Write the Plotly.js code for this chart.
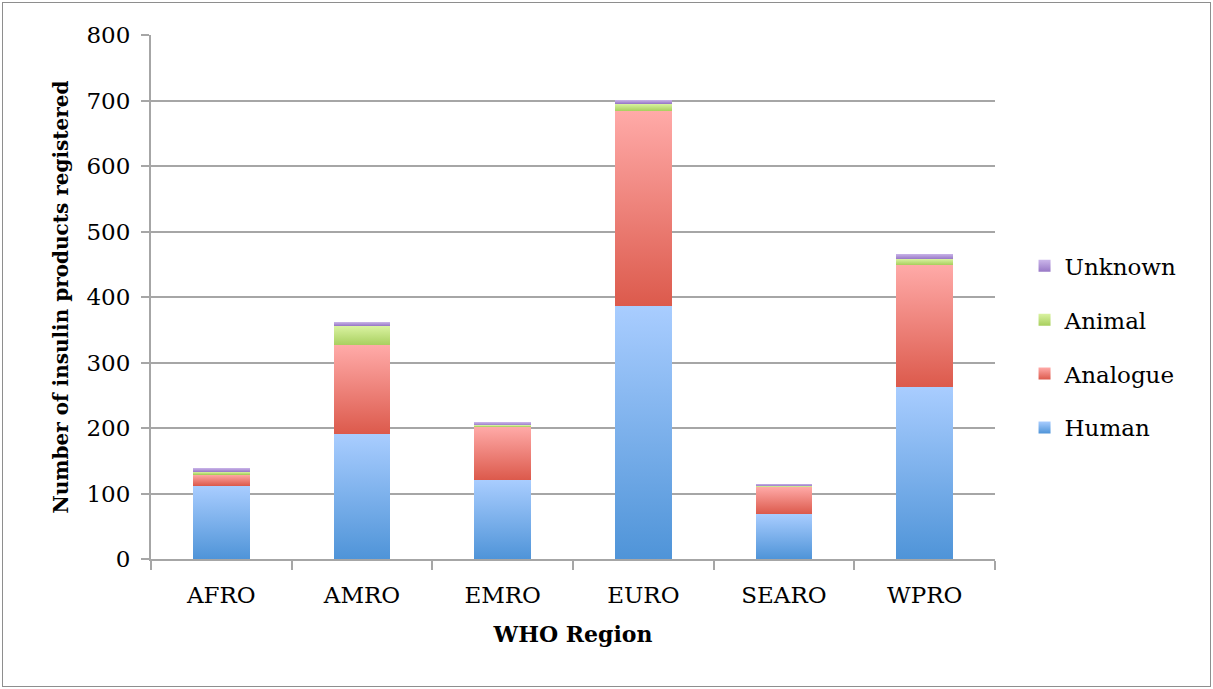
<!DOCTYPE html>
<html>
<head>
<meta charset="utf-8">
<script src="https://cdn.plot.ly/plotly-3.0.1.min.js"></script>
<style>
  html, body { margin: 0; padding: 0; background: #fff; }
  #frame { position: absolute; left: 2px; top: 2px; width: 1207px; height: 683px; border: 1.5px solid #8e8e8e; }
  #chart { position: absolute; left: 0; top: 0; width: 1213px; height: 689px; }
</style>
</head>
<body>
<div id="chart"></div>
<div id="frame"></div>
<script>
const regions = ["AFRO", "AMRO", "EMRO", "EURO", "SEARO", "WPRO"];
const human    = [112, 191, 121, 386, 69, 263];
const analogue = [17, 135, 81, 298, 41, 186];
const animal   = [4, 30, 2, 11, 1, 9];
const unknown  = [6, 6, 5, 6, 4, 8];

const seriesNames = ["Human", "Analogue", "Animal", "Unknown"];
const seriesValues = [human, analogue, animal, unknown];
const legendRanks = [4, 3, 2, 1];
const midColors = ["#7aaee8", "#ee8478", "#c2e27e", "#b398d8"];
const gradStops = [
  ["#a9cdff", "#4f94d8"],
  ["#ffaaa8", "#dc5a4c"],
  ["#daf3a2", "#a8cf5e"],
  ["#cbb6ea", "#9878c6"]
];

const font = "DejaVu Serif, Liberation Serif, serif";

const traces = seriesNames.map((name, i) => ({
  type: "bar",
  name: name,
  x: regions,
  y: seriesValues[i],
  legendgroup: name,
  legendrank: legendRanks[i],
  marker: { color: midColors[i], line: { width: 0 } },
  hoverinfo: "x+y+name"
}));

const layout = {
  width: 1213,
  height: 689,
  margin: { l: 151, r: 218, t: 35, b: 130 },
  paper_bgcolor: "#ffffff",
  plot_bgcolor: "#ffffff",
  barmode: "stack",
  bargap: 0.595,
  font: { family: font, color: "#000", size: 23 },
  xaxis: {
    type: "category",
    showgrid: false,
    showline: true,
    linecolor: "#a6a6a6",
    linewidth: 2,
    ticks: "outside",
    tickson: "boundaries",
    ticklen: 9,
    tickwidth: 2,
    tickcolor: "#a6a6a6",
    ticklabelstandoff: 14,
    tickfont: { family: font, size: 23, color: "#000" },
    title: { text: "<b>WHO Region</b>", font: { family: font, size: 22, color: "#000" }, standoff: 20 }
  },
  yaxis: {
    range: [0, 800],
    dtick: 100,
    showgrid: true,
    gridcolor: "#a6a6a6",
    gridwidth: 2,
    showline: true,
    linecolor: "#a6a6a6",
    linewidth: 2,
    zeroline: false,
    ticks: "outside",
    ticklen: 8,
    tickwidth: 2,
    tickcolor: "#a6a6a6",
    ticklabelstandoff: 6,
    tickfont: { family: font, size: 23, color: "#000" },
    title: { text: "<b>Number of insulin products registered</b>", font: { family: font, size: 20, color: "#000" }, standoff: 12 }
  },
  legend: {
    x: 1.035,
    xanchor: "left",
    y: 0.405,
    yanchor: "middle",
    font: { family: font, size: 23, color: "#000" },
    tracegroupgap: 21,
    traceorder: "grouped",
    bgcolor: "rgba(0,0,0,0)"
  },
  showlegend: true
};

function applyGradients(gd) {
  const svg = gd.querySelector(".main-svg");
  if (!svg) return;
  const ns = "http://www.w3.org/2000/svg";
  let defs = svg.querySelector("defs#customgrad");
  if (!defs) {
    defs = document.createElementNS(ns, "defs");
    defs.setAttribute("id", "customgrad");
    gradStops.forEach((st, i) => {
      const lg = document.createElementNS(ns, "linearGradient");
      lg.setAttribute("id", "grad" + i);
      lg.setAttribute("x1", "0"); lg.setAttribute("y1", "0");
      lg.setAttribute("x2", "0"); lg.setAttribute("y2", "1");
      const s1 = document.createElementNS(ns, "stop");
      s1.setAttribute("offset", "0"); s1.setAttribute("stop-color", st[0]);
      const s2 = document.createElementNS(ns, "stop");
      s2.setAttribute("offset", "1"); s2.setAttribute("stop-color", st[1]);
      lg.appendChild(s1); lg.appendChild(s2);
      defs.appendChild(lg);
    });
    svg.insertBefore(defs, svg.firstChild);
  }
  const traceGroups = gd.querySelectorAll(".barlayer .trace");
  traceGroups.forEach((g, i) => {
    g.querySelectorAll("path").forEach(p => { p.style.fill = "url(#grad" + i + ")"; });
  });
  const legendItems = gd.querySelectorAll(".legend .traces");
  legendItems.forEach(item => {
    const name = item.querySelector(".legendtext").textContent;
    const idx = seriesNames.indexOf(name);
    item.querySelectorAll(".legendpoints path").forEach(p => {
      p.style.fill = "url(#grad" + idx + ")";
      p.style.stroke = "none";
    });
  });
}

Plotly.newPlot("chart", traces, layout, { displayModeBar: false, staticPlot: true }).then(gd => {
  applyGradients(gd);
});
</script>
</body>
</html>
